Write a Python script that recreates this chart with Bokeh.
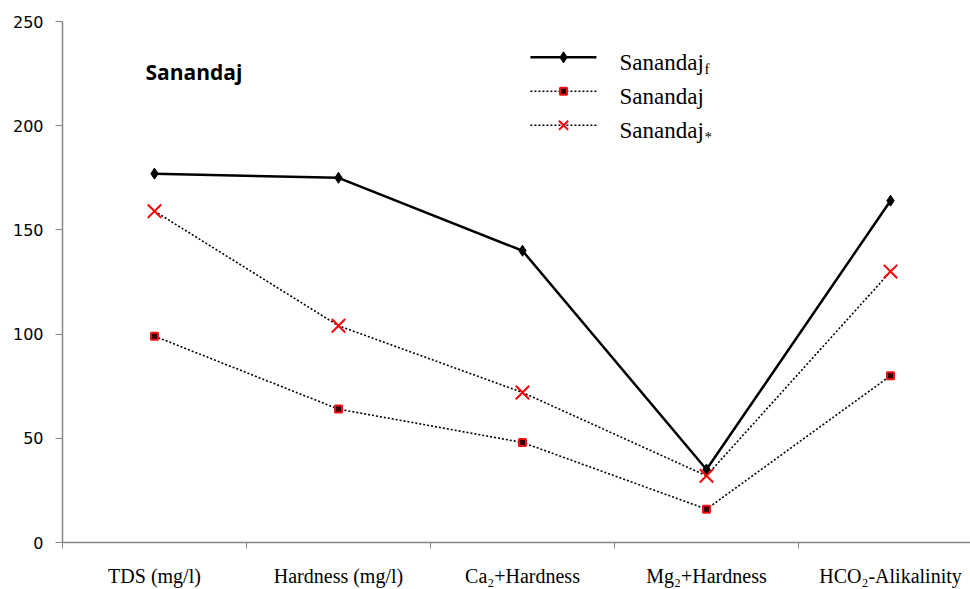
from bokeh.plotting import figure
from bokeh.models import FixedTicker, Range1d, Label
from bokeh.embed import file_html
from bokeh.resources import INLINE

categories = ["TDS (mg/l)", "Hardness (mg/l)", "Ca\u2082+Hardness", "Mg\u2082+Hardness", "HCO\u2082-Alikalinity"]
x_pos = [1, 2, 3, 4, 5]
sanandaj_f = [177, 175, 140, 35, 164]
sanandaj = [99, 64, 48, 16, 80]
sanandaj_star = [159, 104, 72, 32, 130]
y_ticks = [0, 50, 100, 150, 200, 250]

AXIS_GREY = "#868686"

p = figure(width=970, height=589, output_backend="svg", toolbar_location=None,
           x_range=Range1d(0.5, 5.4348), y_range=Range1d(0, 250),
           min_border_left=62, min_border_right=0, min_border_top=21, min_border_bottom=46)
p.xgrid.visible = False
p.ygrid.visible = False
p.outline_line_color = None
p.background_fill_color = "white"
p.border_fill_color = "white"

# x axis
p.xaxis.ticker = FixedTicker(ticks=x_pos, minor_ticks=[0.5, 1.5, 2.5, 3.5, 4.5, 5.5])
p.xaxis.major_label_overrides = {x: c for x, c in zip(x_pos, categories)}
p.xaxis.major_tick_line_color = None
p.xaxis.major_tick_out = 0
p.xaxis.major_tick_in = 0
p.xaxis.minor_tick_line_color = AXIS_GREY
p.xaxis.minor_tick_out = 6
p.xaxis.minor_tick_in = 0
p.xaxis.axis_line_color = AXIS_GREY
p.xaxis.axis_line_width = 1.5
p.xaxis.major_label_text_font = "Liberation Serif"
p.xaxis.major_label_text_font_size = "20px"
p.xaxis.major_label_text_color = "black"
p.xaxis.major_label_standoff = 16

# y axis
p.yaxis.ticker = FixedTicker(ticks=y_ticks, minor_ticks=[])
p.yaxis.axis_line_color = AXIS_GREY
p.yaxis.axis_line_width = 1.5
p.yaxis.major_tick_line_color = AXIS_GREY
p.yaxis.major_tick_out = 7
p.yaxis.major_tick_in = 0
p.yaxis.minor_tick_line_color = None
p.yaxis.major_label_text_font = "DejaVu Sans"
p.yaxis.major_label_text_font_size = "16px"
p.yaxis.major_label_text_color = "black"
p.yaxis.major_label_standoff = 12

# series
p.line(x_pos, sanandaj_f, line_color="black", line_width=2.5)
p.scatter(x_pos, sanandaj_f, marker="diamond", size=11, fill_color="black", line_color="black")

p.line(x_pos, sanandaj, line_color="black", line_width=1.6, line_dash="2 2")
p.scatter(x_pos, sanandaj, marker="square", size=7, fill_color="#300000", line_color="#ee1111", line_width=2)

p.line(x_pos, sanandaj_star, line_color="black", line_width=1.6, line_dash="2 2")
p.scatter(x_pos, sanandaj_star, marker="x", size=19, line_color="#ff0000", line_width=2)

# title label
p.add_layout(Label(x=0.951, y=225.6, text="Sanandaj", text_font="Open Sans", text_font_style="bold",
                   text_font_size="21px", text_color="black", text_baseline="middle"))

# manual legend
lx0, lx1, lxm, ltx = 3.043, 3.402, 3.223, 3.527
rows = [232.8, 216.5, 200.2]
p.line([lx0, lx1], [rows[0], rows[0]], line_color="black", line_width=2.5)
p.scatter([lxm], [rows[0]], marker="diamond", size=11, fill_color="black", line_color="black")
p.line([lx0, lx1], [rows[1], rows[1]], line_color="black", line_width=1.6, line_dash="2 2")
p.scatter([lxm], [rows[1]], marker="square", size=7, fill_color="#300000", line_color="#ee1111", line_width=2)
p.line([lx0, lx1], [rows[2], rows[2]], line_color="black", line_width=1.6, line_dash="2 2")
p.scatter([lxm], [rows[2]], marker="x", size=13, line_color="#ff0000", line_width=2)

for yy, sub in zip(rows, ["f", "", "*"]):
    p.add_layout(Label(x=ltx, y=yy, y_offset=-5, text="Sanandaj", text_font="Liberation Serif",
                       text_font_size="23px", text_color="black", text_baseline="middle"))
    if sub:
        p.add_layout(Label(x=ltx, y=yy, x_offset=85, y_offset=-12, text=sub, text_font="Liberation Serif",
                           text_font_size="15px", text_color="black", text_baseline="middle"))

open("out.html", "w").write(file_html(p, INLINE))
